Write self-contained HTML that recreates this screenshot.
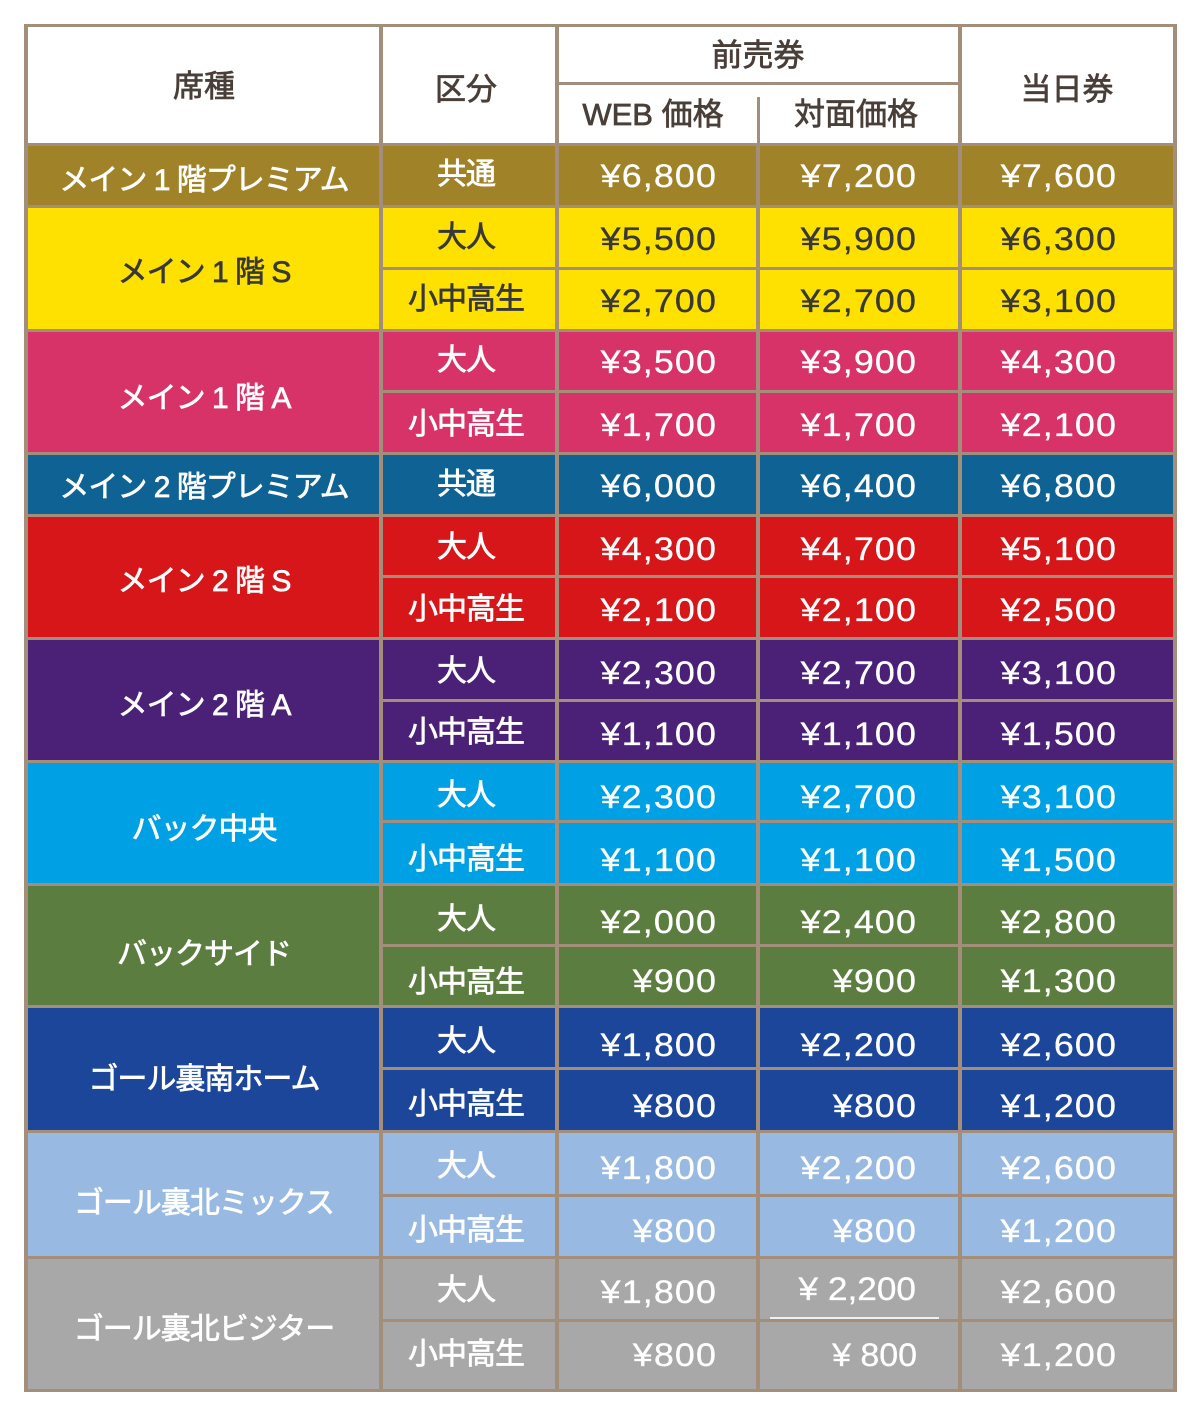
<!DOCTYPE html>
<html><head><meta charset="utf-8">
<style>
html,body{margin:0;padding:0;background:#fff;}
body{width:1200px;height:1417px;position:relative;overflow:hidden;font-family:"Liberation Sans","Noto Sans CJK JP",sans-serif;}
.bg{position:absolute;left:25px;width:1150px;}
.h{position:absolute;height:3px;background:#a38d7b;}
.v{position:absolute;width:4px;background:#a38d7b;}
.t{position:absolute;height:40px;line-height:40px;text-align:center;white-space:nowrap;font-size:30px;font-weight:normal;-webkit-text-stroke:0.7px currentColor;letter-spacing:-1px;color:#fff;}
.hd{color:#4a3e38;font-size:31px;letter-spacing:0;}
.c1{left:27px;width:354px;}
.c2{left:383px;width:166px;}
.p{position:absolute;width:190px;height:40px;line-height:40px;text-align:right;white-space:nowrap;font-size:32px;letter-spacing:1px;color:#fff;-webkit-text-stroke:0.3px currentColor;transform:scaleX(1.12);transform-origin:100% 50%;}
.p3{right:483px;}.p4{right:283px;}.p5{right:83px;}
.dk{color:#383838;}
</style></head><body>

<!-- backgrounds -->
<div class="bg" style="top:25px;height:119px;background:#fff"></div>
<div class="bg" style="top:144px;height:62.5px;background:#a08228"></div>
<div class="bg" style="top:206.5px;height:124px;background:#ffe100"></div>
<div class="bg" style="top:330.5px;height:123px;background:#d83368"></div>
<div class="bg" style="top:453.5px;height:61.5px;background:#0e6294"></div>
<div class="bg" style="top:515px;height:123.5px;background:#d7161a"></div>
<div class="bg" style="top:638.5px;height:122.5px;background:#4a2176"></div>
<div class="bg" style="top:761px;height:123px;background:#00a0e4"></div>
<div class="bg" style="top:884px;height:122.5px;background:#5c7d40"></div>
<div class="bg" style="top:1006.5px;height:125px;background:#1b4699"></div>
<div class="bg" style="top:1131.5px;height:126px;background:#98b9e1"></div>
<div class="bg" style="top:1257.5px;height:132.5px;background:#a8a8a8"></div>

<!-- full horizontal lines -->
<div class="h" style="left:23.5px;width:1153px;top:23.5px"></div>
<div class="h" style="left:23.5px;width:1153px;top:142.5px"></div>
<div class="h" style="left:23.5px;width:1153px;top:205px"></div>
<div class="h" style="left:23.5px;width:1153px;top:329px"></div>
<div class="h" style="left:23.5px;width:1153px;top:452px"></div>
<div class="h" style="left:23.5px;width:1153px;top:513.5px"></div>
<div class="h" style="left:23.5px;width:1153px;top:637px"></div>
<div class="h" style="left:23.5px;width:1153px;top:759.5px"></div>
<div class="h" style="left:23.5px;width:1153px;top:882.5px"></div>
<div class="h" style="left:23.5px;width:1153px;top:1005px"></div>
<div class="h" style="left:23.5px;width:1153px;top:1130px"></div>
<div class="h" style="left:23.5px;width:1153px;top:1256px"></div>
<div class="h" style="left:23.5px;width:1153px;top:1388.5px"></div>
<!-- partial horizontal lines -->
<div class="h" style="left:557px;width:402.5px;top:81.5px"></div>
<div class="h" style="left:381px;width:795.5px;top:267px"></div>
<div class="h" style="left:381px;width:795.5px;top:390px"></div>
<div class="h" style="left:381px;width:795.5px;top:575px"></div>
<div class="h" style="left:381px;width:795.5px;top:698.5px"></div>
<div class="h" style="left:381px;width:795.5px;top:820px"></div>
<div class="h" style="left:381px;width:795.5px;top:943.5px"></div>
<div class="h" style="left:381px;width:795.5px;top:1067px"></div>
<div class="h" style="left:381px;width:795.5px;top:1193.5px"></div>
<div class="h" style="left:381px;width:795.5px;top:1318.5px"></div>
<div style="position:absolute;left:770px;width:169px;top:1317.3px;height:1.5px;background:#f0f0f0"></div>

<!-- vertical lines -->
<div class="v" style="left:23.5px;top:23.5px;height:1368px"></div>
<div class="v" style="left:379px;top:23.5px;height:1368px"></div>
<div class="v" style="left:555px;top:23.5px;height:1368px"></div>
<div class="v" style="left:957.5px;top:23.5px;height:1368px"></div>
<div class="v" style="left:1172.5px;top:23.5px;height:1368px"></div>
<div class="v" style="left:756.5px;top:97px;height:47px;width:3px"></div>
<div class="v" style="left:756px;top:144px;height:1247.5px"></div>

<!-- header text -->
<div class="t hd c1" style="top:67px">席種</div>
<div class="t hd c2" style="top:70px">区分</div>
<div class="t hd" style="left:557px;width:402px;top:36px">前売券</div>
<div class="t hd" style="left:553px;width:200px;top:95px">WEB 価格</div>
<div class="t hd" style="left:758px;width:196px;top:95px">対面価格</div>
<div class="t hd" style="left:961px;width:212px;top:70px">当日券</div>

<!-- seat names -->
<div class="t c1" style="top:161px">メイン 1 階プレミアム</div>
<div class="t c1 dk" style="top:253px">メイン 1 階 S</div>
<div class="t c1" style="top:378.5px">メイン 1 階 A</div>
<div class="t c1" style="top:467.5px">メイン 2 階プレミアム</div>
<div class="t c1" style="top:561.5px">メイン 2 階 S</div>
<div class="t c1" style="top:685.5px">メイン 2 階 A</div>
<div class="t c1" style="top:810px">バック中央</div>
<div class="t c1" style="top:935px">バックサイド</div>
<div class="t c1" style="top:1060px">ゴール裏南ホーム</div>
<div class="t c1" style="top:1183.5px">ゴール裏北ミックス</div>
<div class="t c1" style="top:1309.5px">ゴール裏北ビジター</div>

<!-- category labels -->
<div class="t c2" style="top:155px">共通</div>
<div class="t c2 dk" style="top:218px">大人</div>
<div class="t c2 dk" style="top:280px">小中高生</div>
<div class="t c2" style="top:341px">大人</div>
<div class="t c2" style="top:404.5px">小中高生</div>
<div class="t c2" style="top:465px">共通</div>
<div class="t c2" style="top:527.5px">大人</div>
<div class="t c2" style="top:589.5px">小中高生</div>
<div class="t c2" style="top:652px">大人</div>
<div class="t c2" style="top:713px">小中高生</div>
<div class="t c2" style="top:776px">大人</div>
<div class="t c2" style="top:839.5px">小中高生</div>
<div class="t c2" style="top:899.5px">大人</div>
<div class="t c2" style="top:962.5px">小中高生</div>
<div class="t c2" style="top:1022px">大人</div>
<div class="t c2" style="top:1085px">小中高生</div>
<div class="t c2" style="top:1147px">大人</div>
<div class="t c2" style="top:1211px">小中高生</div>
<div class="t c2" style="top:1271px">大人</div>
<div class="t c2" style="top:1334.5px">小中高生</div>

<!-- prices -->
<div class="p p3" style="top:156px">¥6,800</div><div class="p p4" style="top:156px">¥7,200</div><div class="p p5" style="top:156px">¥7,600</div>
<div class="p p3 dk" style="top:219px">¥5,500</div><div class="p p4 dk" style="top:219px">¥5,900</div><div class="p p5 dk" style="top:219px">¥6,300</div>
<div class="p p3 dk" style="top:281px">¥2,700</div><div class="p p4 dk" style="top:281px">¥2,700</div><div class="p p5 dk" style="top:281px">¥3,100</div>
<div class="p p3" style="top:342px">¥3,500</div><div class="p p4" style="top:342px">¥3,900</div><div class="p p5" style="top:342px">¥4,300</div>
<div class="p p3" style="top:405px">¥1,700</div><div class="p p4" style="top:405px">¥1,700</div><div class="p p5" style="top:405px">¥2,100</div>
<div class="p p3" style="top:466px">¥6,000</div><div class="p p4" style="top:466px">¥6,400</div><div class="p p5" style="top:466px">¥6,800</div>
<div class="p p3" style="top:528.5px">¥4,300</div><div class="p p4" style="top:528.5px">¥4,700</div><div class="p p5" style="top:528.5px">¥5,100</div>
<div class="p p3" style="top:590px">¥2,100</div><div class="p p4" style="top:590px">¥2,100</div><div class="p p5" style="top:590px">¥2,500</div>
<div class="p p3" style="top:653px">¥2,300</div><div class="p p4" style="top:653px">¥2,700</div><div class="p p5" style="top:653px">¥3,100</div>
<div class="p p3" style="top:713.5px">¥1,100</div><div class="p p4" style="top:713.5px">¥1,100</div><div class="p p5" style="top:713.5px">¥1,500</div>
<div class="p p3" style="top:777px">¥2,300</div><div class="p p4" style="top:777px">¥2,700</div><div class="p p5" style="top:777px">¥3,100</div>
<div class="p p3" style="top:839.5px">¥1,100</div><div class="p p4" style="top:839.5px">¥1,100</div><div class="p p5" style="top:839.5px">¥1,500</div>
<div class="p p3" style="top:901.5px">¥2,000</div><div class="p p4" style="top:901.5px">¥2,400</div><div class="p p5" style="top:901.5px">¥2,800</div>
<div class="p p3" style="top:961px">¥900</div><div class="p p4" style="top:961px">¥900</div><div class="p p5" style="top:961px">¥1,300</div>
<div class="p p3" style="top:1024.5px">¥1,800</div><div class="p p4" style="top:1024.5px">¥2,200</div><div class="p p5" style="top:1024.5px">¥2,600</div>
<div class="p p3" style="top:1085.5px">¥800</div><div class="p p4" style="top:1085.5px">¥800</div><div class="p p5" style="top:1085.5px">¥1,200</div>
<div class="p p3" style="top:1148px">¥1,800</div><div class="p p4" style="top:1148px">¥2,200</div><div class="p p5" style="top:1148px">¥2,600</div>
<div class="p p3" style="top:1211px">¥800</div><div class="p p4" style="top:1211px">¥800</div><div class="p p5" style="top:1211px">¥1,200</div>
<div class="p p3" style="top:1272px">¥1,800</div><div class="p p4" style="top:1268.5px;letter-spacing:0;transform:scaleX(1.1);right:284px">¥ 2,200</div><div class="p p5" style="top:1272px">¥2,600</div>
<div class="p p3" style="top:1334.5px">¥800</div><div class="p p4" style="top:1334.5px;letter-spacing:0;transform:scaleX(1.06);right:283px">¥ 800</div><div class="p p5" style="top:1334.5px">¥1,200</div>

</body></html>
